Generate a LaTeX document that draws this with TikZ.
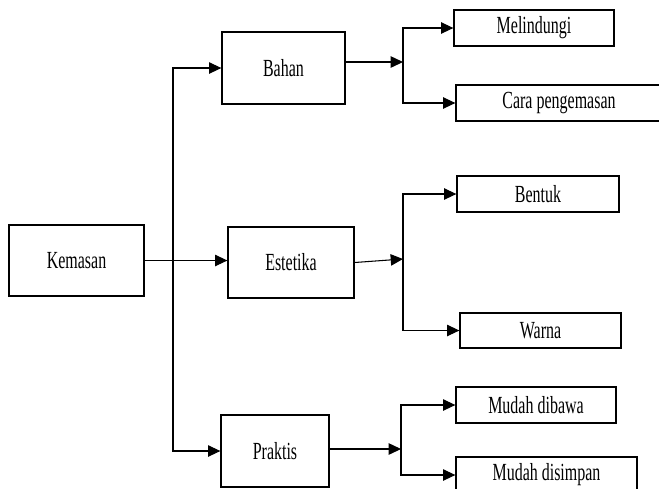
\documentclass[tikz,border=0pt]{standalone}
\usepackage{fontspec}
\setmainfont{Liberation Serif}[FakeStretch=0.65]
\usetikzlibrary{arrows.meta}

\begin{document}
\begin{tikzpicture}[
    x=0.02cm, y=-0.02cm,
    block/.style={rectangle, draw, line width=0.75pt, inner sep=0pt, align=center, font=\fontsize{14}{16}\selectfont},
    arrow/.style={-{Triangle[length=7pt, width=6.5pt]}, line width=0.6pt}
]
    \useasboundingbox (0,0) rectangle (659,488);

    \node[block, minimum width=2.7cm, minimum height=1.42cm] (kemasan) at (76.5,260.5) {Kemasan};
    \node[block, minimum width=2.46cm, minimum height=1.44cm] (bahan) at (283.5,68) {Bahan};
    \node[block, minimum width=2.52cm, minimum height=1.42cm] (estetika) at (291,262.5) {Estetika};
    \node[block, minimum width=2.16cm, minimum height=1.44cm] (praktis) at (275,451) {Praktis};

    \node[block, minimum width=3.2cm, minimum height=0.72cm] (melindungi) at (534,28) {Melindungi};
    \node[block, minimum width=4.12cm, minimum height=0.72cm] (cara) at (559,103) {Cara pengemasan};
    \node[block, minimum width=3.24cm, minimum height=0.72cm] (bentuk) at (538,194) {Bentuk};
    \node[block, minimum width=3.22cm, minimum height=0.7cm] (warna) at (540.5,330.5) {Warna};
    \node[block, minimum width=3.2cm, minimum height=0.72cm] (dibawa) at (536,405) {Mudah dibawa};
    \node[block, minimum width=3.62cm, minimum height=0.72cm] (disimpan) at (546.5,475) {Mudah disimpan};

    % split points
    \coordinate (trunk) at (173,260);
    \coordinate (bs) at (403,62);
    \coordinate (es) at (403,259);
    \coordinate (ps) at (401,449);

    \draw[arrow] (kemasan.east) -- (kemasan.east -| estetika.west);
    \draw[arrow] (trunk) |- (bahan);
    \draw[arrow] (trunk) |- (praktis);

    \draw[arrow] (bahan.east |- bs) -- (bs);
    \draw[arrow] (estetika.east) -- (es);
    \draw[arrow] (praktis.east |- ps) -- (ps);

    \draw[arrow] (bs) |- (melindungi);
    \draw[arrow] (bs) |- (cara);
    \draw[arrow] (es) |- (bentuk);
    \draw[arrow] (es) |- (warna);
    \draw[arrow] (ps) |- (dibawa);
    \draw[arrow] (ps) |- (disimpan);
\end{tikzpicture}
\end{document}
